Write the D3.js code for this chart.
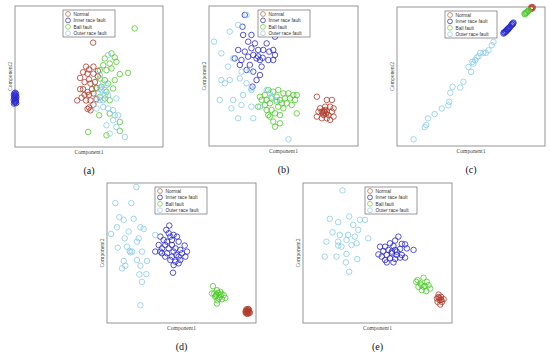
<!DOCTYPE html>
<html><head><meta charset="utf-8">
<script src="https://cdn.jsdelivr.net/npm/d3@7"></script>
<style>body{margin:0;background:#fff}svg{display:block}</style>
</head><body>
<svg id="c" width="550" height="356"></svg>
<script>
const classes = ["Normal", "Inner race fault", "Ball fault", "Outer race fault"];
const panelLabels = ["(a)", "(b)", "(c)", "(d)", "(e)"];
const xTitle = "Component1", yTitle = "Component2";

// panel (a)
const aNormal = [[52.8,74],[48,57],[50,55],[53,57],[46,53],[49,52],[44,49],[50,48],[53,52],[56,54],[47,46],[51,45],[54,46],[46,41],[44,41],[49,39],[52,41],[55,42],[47,37],[50,37],[53,38],[42,33],[48,33],[51,33],[55,34],[49,27],[51,26],[50,28],[53,30],[45,35],[56,50]];
const aInner = [[0.2,38.5],[-0.5,38],[0.8,37.6],[0,37.2],[-0.8,36.8],[0.5,36.3],[-0.2,35.9],[0.9,35.5],[-0.6,35.1],[0.3,34.7],[-0.3,34.2],[0.7,33.8],[-0.9,33.4],[0.1,33],[0.6,32.6],[-0.4,32.2],[0.4,31.8],[-0.1,31.4],[0.8,31.1],[-0.7,30.8]];
const aBall = [[80.9,84.1],[65.2,66.4],[67.4,63.5],[60.7,62.8],[64,59.2],[68.5,60.4],[59.6,58],[57.3,54.5],[61.8,54.5],[65.2,55.7],[76.4,52.6],[70.8,51.7],[57.3,48.6],[60.7,47.4],[67.4,47.4],[62.9,45],[58.4,42.7],[55.1,41.5],[66.3,41.5],[61.8,39.1],[57.3,35.5],[60.7,34.4],[64,33.2],[56.9,22.5],[64,23.7],[70.8,17.8],[49.4,10.7],[61.8,8.3],[70.8,11.4]];
const aOuter = [[62.9,65.2],[57.3,51],[59.6,45],[61.8,43.8],[58.4,40.3],[56.2,37.9],[60.7,36.7],[62.9,36.7],[59.6,33.2],[57.3,33.2],[55.1,33.2],[68.5,34.4],[59.6,28.4],[62.9,27.3],[66.3,26.1],[55.1,27.3],[67.4,22.5],[66.3,19],[61.8,15.4],[68.5,14.2],[64,9.5],[74.2,7.1],[69.7,22.5],[60.7,40.3],[57.3,41.5]];

// panel (b)
const bNormal = [[72.4,35.2],[79.1,32.9],[82.5,32.9],[74.6,26.9],[78,28.1],[81.3,28.1],[83.6,26.9],[73.5,24.5],[75.7,24.5],[79.1,24.5],[82.5,24.5],[72.4,21],[76.9,22.1],[80.2,22.1],[83.6,21],[75.7,19.8],[79.1,19.8],[81.3,18.6],[78,25.7],[76.4,23.3],[77.5,24],[78.5,23],[77,25]];
const bInner = [[24,93.6],[22.5,85.2],[22.9,79.3],[28.5,79.3],[26.3,74.5],[30.8,73.3],[37.5,80.5],[38.7,73.3],[44.3,78.1],[33,68.6],[36.4,68.6],[40.4,67.4],[43.1,68.6],[44.3,65],[28.5,69.8],[24,67.4],[19.6,68.6],[17.3,62.6],[21.8,61.4],[26.3,63.8],[29.7,65],[31.9,62.6],[34.2,61.4],[39.8,61.4],[43.1,61.4],[35.3,56.7],[25.2,54.3],[29.7,53.1],[34.2,50.7],[31.9,47.1],[29.2,42.4],[20.7,57.9],[27.4,57.9],[33,64],[36,63]];
const bBall = [[39.8,40],[43.1,38.8],[46.5,40],[49.9,37.6],[53.3,37.6],[56.6,36.4],[58.9,36.4],[34.2,35.2],[37.5,36.4],[35.3,32.9],[38.7,32.9],[42,34],[45.4,35.2],[47.6,32.9],[51,34],[54.4,34],[57.8,32.9],[33,28.1],[37.5,29.3],[40.9,30.5],[45.4,31.7],[48.8,30.5],[52.1,30.5],[55.5,29.3],[38.7,25.7],[42,25.7],[46.5,28.1],[49.9,26.9],[58.9,23.3],[39.8,22.1],[44.3,23.3],[47.6,22.1],[43.1,17.4],[47.6,16.2],[44.3,13.8],[40.9,21]];
const bOuter = [[25.2,93.6],[19.6,86.4],[13.9,81.7],[3.4,74.5],[8.3,66.2],[16.2,62.6],[12.8,56.7],[21.8,53.1],[27.4,54.3],[8.3,47.1],[13.9,47.1],[10.6,44.8],[20.7,48.3],[28.5,41.2],[25.2,44.8],[7.2,32.9],[16.2,32.9],[22.9,36.4],[28.5,40],[38.7,40],[42,35.2],[21.8,29.3],[28.5,28.1],[34.2,28.1],[19.6,19.8],[29.7,19.8],[15.1,26.9],[53.3,4.8],[45.4,32.9],[40.9,37.6]];

// panel (c)
const cNormal = [[91,99.5],[90.5,98.6],[91.4,98.9],[91.8,99.8],[90.8,99.9]];
const cInner = [[71.9,80.9],[73,82.1],[74.2,83.3],[75.3,84.4],[76.4,85.6],[77.5,87.6],[78.7,88.8],[73.5,82.8],[74.8,83.7],[75.7,85.2],[77.1,86.6],[78.2,88],[72.6,81.3],[73.8,82.3],[76,85],[77.8,87.2],[74.5,84],[75,83.9],[72.2,81.8],[78.5,88.2]];
const cBall = [[86.1,95.2],[87.2,95.9],[88.3,96.9],[89.2,97.6],[86.5,94.7],[87.6,96.4],[88.8,97.2],[86.9,95.5]];
const cOuter = [[11.2,4.8],[19.8,15.1],[20.9,19.9],[25.4,23],[30.3,27],[35.3,31.8],[36,38.3],[37.5,42.6],[42.7,42.1],[44.9,46.2],[48.3,56.9],[50.1,53.3],[51,60.5],[53.9,63.6],[52.8,61.7],[56.2,67],[58.4,67.2],[60,67],[61.8,68.9],[64,72.5],[65.2,74.9],[51.7,59.3],[55.1,64.6],[18.8,13.5],[34.7,29.2]];

// panel (d)
const dNormal = [[93.2,8.6],[94.1,9.3],[95,8.8],[93.8,7.4],[94.9,7.2],[93,7.8],[95.6,8],[94.4,6.5],[93.6,9.8],[94.6,8.1],[94,8],[95.2,9.6],[93.4,6.8],[94.8,10],[95.8,7.2]];
const dInner = [[41.8,69.6],[39.8,66.5],[35.8,61.7],[41.4,64.1],[44.7,62.9],[47,61.7],[38,59.3],[43.6,59.3],[40.3,58.1],[48.1,58.1],[34.7,55.7],[39.1,55.7],[43.6,55.7],[52.1,55.3],[36.9,53.3],[41.4,53.3],[45.9,53.3],[49.2,52.2],[32.4,51],[35.8,51],[40.3,49.8],[44.7,51],[53.7,51],[39.1,47.4],[43.6,47.4],[48.1,47.4],[52.6,47.4],[42.5,45],[45.9,43.8],[49.2,45],[44.7,41.4],[48.1,42.6],[44.3,35.9],[36.9,49.8],[50.3,49.8],[42.5,61.7],[46.5,48.6]];
const dBall = [[71.1,26.3],[73.8,23.4],[72,21.1],[76.1,22.2],[78.3,19.9],[72.7,18.7],[74.9,17.5],[77.2,17],[73.8,13.9],[70.5,21.1],[79.4,17.9],[76.1,19.9],[73.4,20.3],[74.5,21.5],[75.5,18.5],[73,19.5],[76.8,20.8],[74.2,16.2]];
const dOuter = [[19.7,97.1],[5.6,85.6],[16.3,85.6],[8.3,75.6],[11.2,73.7],[17.9,74.4],[6.7,68.4],[22.4,68.4],[24.6,67.2],[2.7,63.6],[14.5,65.3],[21.3,60.5],[32.4,62.9],[11.9,60.5],[7.2,53.8],[13.4,54.5],[16.8,51],[20.1,58.1],[23.5,51],[11.2,44.3],[15.7,50.5],[20.1,45],[26.8,44.3],[10.1,39],[12.3,40.9],[22.4,40.9],[21.7,34.7],[26.4,34.9],[23.5,29.4],[22.4,12.7],[15.2,51.4]];

// panel (e)
const eNormal = [[91,20.3],[89.9,17.5],[92.6,18.7],[91.7,16.3],[94.4,17],[90.3,15.1],[93.3,15.1],[92.1,13.2],[91.5,17.8],[92.8,16.5],[90.8,18.5]];
const eInner = [[64,61.7],[61.8,58.9],[58.4,56.9],[66.3,56.5],[51.7,54.5],[55.1,54.5],[60.7,55],[68.5,56.2],[50.6,49],[53.9,51.4],[57.3,52.2],[61.8,52.2],[65.2,52.9],[69.7,53.3],[74.2,52.2],[52.8,47.4],[56.2,48.6],[59.6,49.8],[62.9,48.6],[66.3,48.6],[68.5,46.7],[55.1,45],[58.4,46.2],[61.8,45.7],[65.2,46.7],[56.2,43.3],[60.7,43.3],[59.6,51],[62.9,51]];
const eBall = [[76,29.4],[80.9,32.3],[78.7,28.2],[83.1,29.4],[77.5,25.8],[80.9,25.8],[84.3,27],[79.8,23.4],[82.7,22.7],[76.9,30.6],[85.4,24.6],[79.5,27],[81.8,26.5]];
const eOuter = [[26.5,94.7],[31,76.1],[23.6,72],[18,74.4],[38.2,73.7],[41.6,73.7],[33.7,70.1],[19.8,64.8],[24.7,62.9],[30.3,62.9],[37.1,66.5],[15.7,58.1],[23.6,58.1],[29.2,59.3],[34.8,61.7],[43.8,60.5],[32.6,55.7],[36,56.9],[25.8,54.5],[14.6,47.4],[22.5,47.4],[29.2,49.3],[36.4,45.7],[28.8,43.3],[31,36.6],[23.6,55.3]];

const colors = ["#b03a2a", "#2a2ad0", "#4ccc2a", "#88cce8"];
const legendColors = ["#b07a55", "#3a3ac0", "#7ad050", "#a8c8e6"];

const panels = [
  {series:[aNormal,aInner,aBall,aOuter], x0:15, x1:163, y0:6, y1:147, lg:48},
  {series:[bNormal,bInner,bBall,bOuter], x0:209, x1:358, y0:6, y1:146, lg:49},
  {series:[cNormal,cInner,cBall,cOuter], x0:397, x1:545, y0:7, y1:146, lg:48},
  {series:[dNormal,dInner,dBall,dOuter], x0:107, x1:256, y0:183, y1:323, lg:48},
  {series:[eNormal,eInner,eBall,eOuter], x0:303, x1:452, y0:183, y1:323, lg:62}
];

const svg = d3.select("#c");

panels.forEach((p, i) => {
  const x = d3.scaleLinear().domain([0, 100]).range([p.x0, p.x1]);
  const y = d3.scaleLinear().domain([0, 100]).range([p.y1, p.y0]);
  const g = svg.append("g");
  g.append("rect").attr("x", p.x0).attr("y", p.y0)
    .attr("width", p.x1 - p.x0).attr("height", p.y1 - p.y0)
    .attr("fill", "#fff").attr("stroke", "#8a8a8a").attr("stroke-width", 0.9);

  p.series.forEach((s, k) => {
    g.append("g").selectAll("circle").data(s).join("circle")
      .attr("cx", d => x(d[0])).attr("cy", d => y(d[1])).attr("r", 2.75)
      .attr("fill", "none").attr("stroke", colors[k]).attr("stroke-width", 0.8);
  });

  // legend
  const lx = p.x0 + p.lg, ly = p.y0 + 4;
  const lg = g.append("g");
  lg.append("rect").attr("x", lx).attr("y", ly).attr("width", 52).attr("height", 27)
    .attr("fill", "#fff").attr("stroke", "#555").attr("stroke-width", 0.6);
  classes.forEach((c, k) => {
    const yy = ly + 4 + k * 6.4;
    lg.append("circle").attr("cx", lx + 5).attr("cy", yy).attr("r", 2.4)
      .attr("fill", "none").attr("stroke", legendColors[k]).attr("stroke-width", 0.8);
    lg.append("text").attr("x", lx + 10.5).attr("y", yy + 1.7).text(c)
      .attr("font-family", "Liberation Sans, Arial, sans-serif").attr("font-size", 4.8).attr("fill", "#333");
  });

  const cx = (p.x0 + p.x1) / 2, cy = (p.y0 + p.y1) / 2;
  g.append("text").attr("x", cx).attr("y", p.y1 + 7).attr("text-anchor", "middle")
    .attr("font-family", "Liberation Serif, Times New Roman, serif").attr("font-size", 5.6).attr("fill", "#444")
    .text(xTitle);
  g.append("text").attr("transform", `translate(${p.x0 - 3},${cy}) rotate(-90)`).attr("text-anchor", "middle")
    .attr("font-family", "Liberation Serif, Times New Roman, serif").attr("font-size", 5.6).attr("fill", "#444")
    .text(yTitle);
  g.append("text").attr("x", cx).attr("y", p.y1 + 27).attr("text-anchor", "middle")
    .attr("font-family", "Liberation Serif, Times New Roman, serif").attr("font-size", 10).attr("fill", "#111")
    .text(panelLabels[i]);
});
</script>
</body></html>
